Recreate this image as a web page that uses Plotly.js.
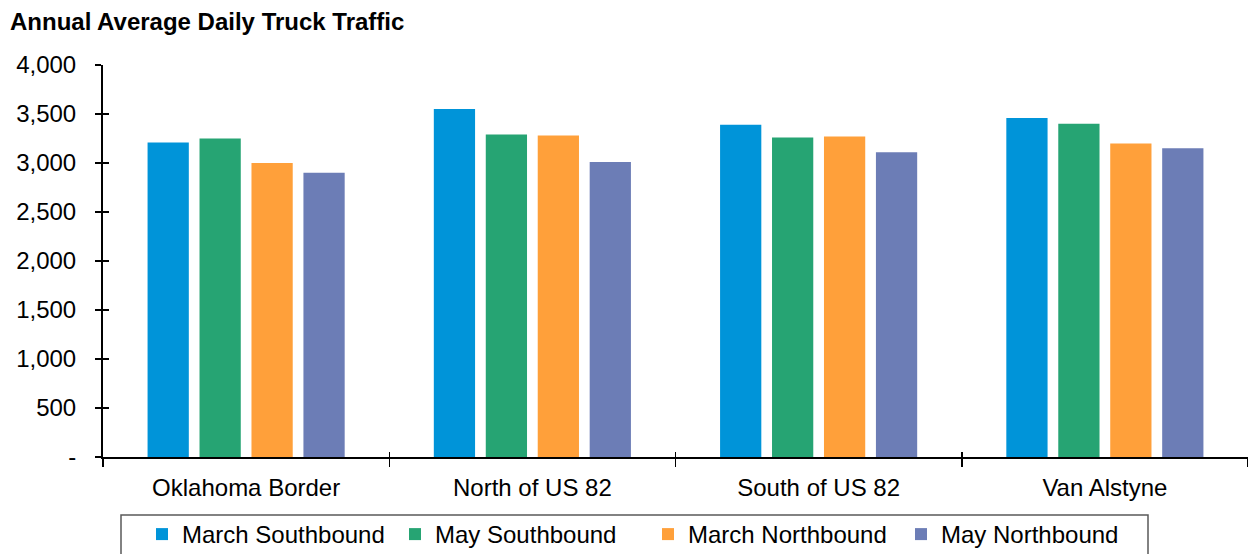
<!DOCTYPE html>
<html>
<head>
<meta charset="utf-8">
<script src="https://cdn.plot.ly/plotly-3.0.1.min.js"></script>
<style>
  html, body { margin: 0; padding: 0; background: #ffffff; }
  #chart { width: 1248px; height: 554px; }
</style>
</head>
<body>
<div id="chart"></div>
<script>
// Count locations along the corridor
const locations = ['Oklahoma Border', 'North of US 82', 'South of US 82', 'Van Alstyne'];

// Annual average daily truck traffic per location, by month and direction
const marchSouthbound = [3210, 3550, 3390, 3460];
const maySouthbound   = [3250, 3290, 3260, 3400];
const marchNorthbound = [3000, 3280, 3270, 3200];
const mayNorthbound   = [2900, 3010, 3110, 3150];

const seriesNames = ['March Southbound', 'May Southbound', 'March Northbound', 'May Northbound'];
const seriesColors = ['#0094D9', '#26A473', '#FFA03A', '#6C7DB6'];

// Y axis ticks (accounting style: zero shown as a dash)
const yTickVals = [0, 500, 1000, 1500, 2000, 2500, 3000, 3500, 4000];
const yTickText = ['-', '500', '1,000', '1,500', '2,000', '2,500', '3,000', '3,500', '4,000'];

const FONT = 'Liberation Sans, Arial, sans-serif';
const W = 1248, H = 554;
const seriesValues = [marchSouthbound, maySouthbound, marchNorthbound, mayNorthbound];

const traces = seriesValues.map((vals, i) => ({
  type: 'bar',
  name: seriesNames[i],
  x: locations,
  y: vals,
  marker: { color: seriesColors[i], line: { width: 0 } },
  hoverinfo: 'x+y+name'
}));

// Companion trace on overlay axes, used only to draw the inner half of the tick marks
traces.push({
  type: 'scatter',
  mode: 'none',
  x: locations,
  y: marchSouthbound,
  xaxis: 'x2',
  yaxis: 'y2',
  showlegend: false,
  hoverinfo: 'skip'
});

const layout = {
  width: W,
  height: H,
  margin: { l: 103, r: 0, t: 65, b: 97 },
  paper_bgcolor: '#ffffff',
  plot_bgcolor: '#ffffff',
  font: { family: FONT, size: 24, color: '#000000' },
  barmode: 'group',
  bargap: 0.274,
  bargroupgap: 0.206,
  title: {
    text: '<b>Annual Average Daily Truck Traffic</b>',
    font: { family: FONT, size: 24, color: '#000000' },
    xref: 'container', x: 10 / W, xanchor: 'left',
    yref: 'container', y: 1 - 21.5 / H, yanchor: 'middle'
  },
  xaxis: {
    type: 'category',
    categoryorder: 'array',
    categoryarray: locations,
    range: [-0.5, 3.5],
    automargin: false,
    tickson: 'boundaries',
    ticks: 'outside',
    ticklen: 8,
    tickwidth: 1.5,
    tickcolor: '#000000',
    ticklabelstandoff: 8,
    showline: true,
    linecolor: '#000000',
    linewidth: 2,
    showgrid: false,
    zeroline: false,
    tickfont: { family: FONT, size: 24, color: '#000000' },
    fixedrange: true
  },
  yaxis: {
    range: [0, 4000],
    automargin: false,
    tickmode: 'array',
    tickvals: yTickVals,
    ticktext: yTickText,
    ticks: 'outside',
    ticklen: 6,
    tickwidth: 1.5,
    tickcolor: '#000000',
    ticklabelstandoff: 14,
    showline: true,
    linecolor: '#000000',
    linewidth: 2,
    showgrid: false,
    zeroline: false,
    tickfont: { family: FONT, size: 24, color: '#000000' },
    fixedrange: true
  },
  xaxis2: {
    overlaying: 'x',
    anchor: 'y2',
    type: 'category',
    categoryorder: 'array',
    categoryarray: locations,
    range: [-0.5, 3.5],
    automargin: false,
    tickson: 'boundaries',
    ticks: 'inside',
    ticklen: 5,
    tickwidth: 1.5,
    tickcolor: '#000000',
    showticklabels: false,
    showline: false,
    showgrid: false,
    zeroline: false,
    fixedrange: true
  },
  yaxis2: {
    overlaying: 'y',
    anchor: 'x2',
    range: [0, 4000],
    automargin: false,
    tickmode: 'array',
    tickvals: yTickVals,
    ticks: 'inside',
    ticklen: 6,
    tickwidth: 1.5,
    tickcolor: '#000000',
    showticklabels: false,
    showline: false,
    showgrid: false,
    zeroline: false,
    fixedrange: true
  },
  showlegend: true,
  legend: {
    orientation: 'h',
    xref: 'container',
    yref: 'container',
    x: 142 / W,
    xanchor: 'left',
    y: 1 - 512 / H,
    yanchor: 'top',
    entrywidth: 208,
    entrywidthmode: 'pixels',
    bgcolor: 'rgba(0,0,0,0)',
    borderwidth: 0,
    font: { family: FONT, size: 24, color: '#000000' },
    traceorder: 'normal'
  },
  shapes: [{
    // frame around the legend row
    type: 'rect',
    xref: 'paper', yref: 'paper',
    x0: (121 - 103) / 1145, x1: (1148 - 103) / 1145,
    y0: (457 - 515) / 392, y1: (457 - 600) / 392,
    line: { color: '#595959', width: 1.5 },
    fillcolor: 'rgba(0,0,0,0)'
  }]
};

Plotly.newPlot('chart', traces, layout, { displayModeBar: false, staticPlot: true });
</script>
</body>
</html>
